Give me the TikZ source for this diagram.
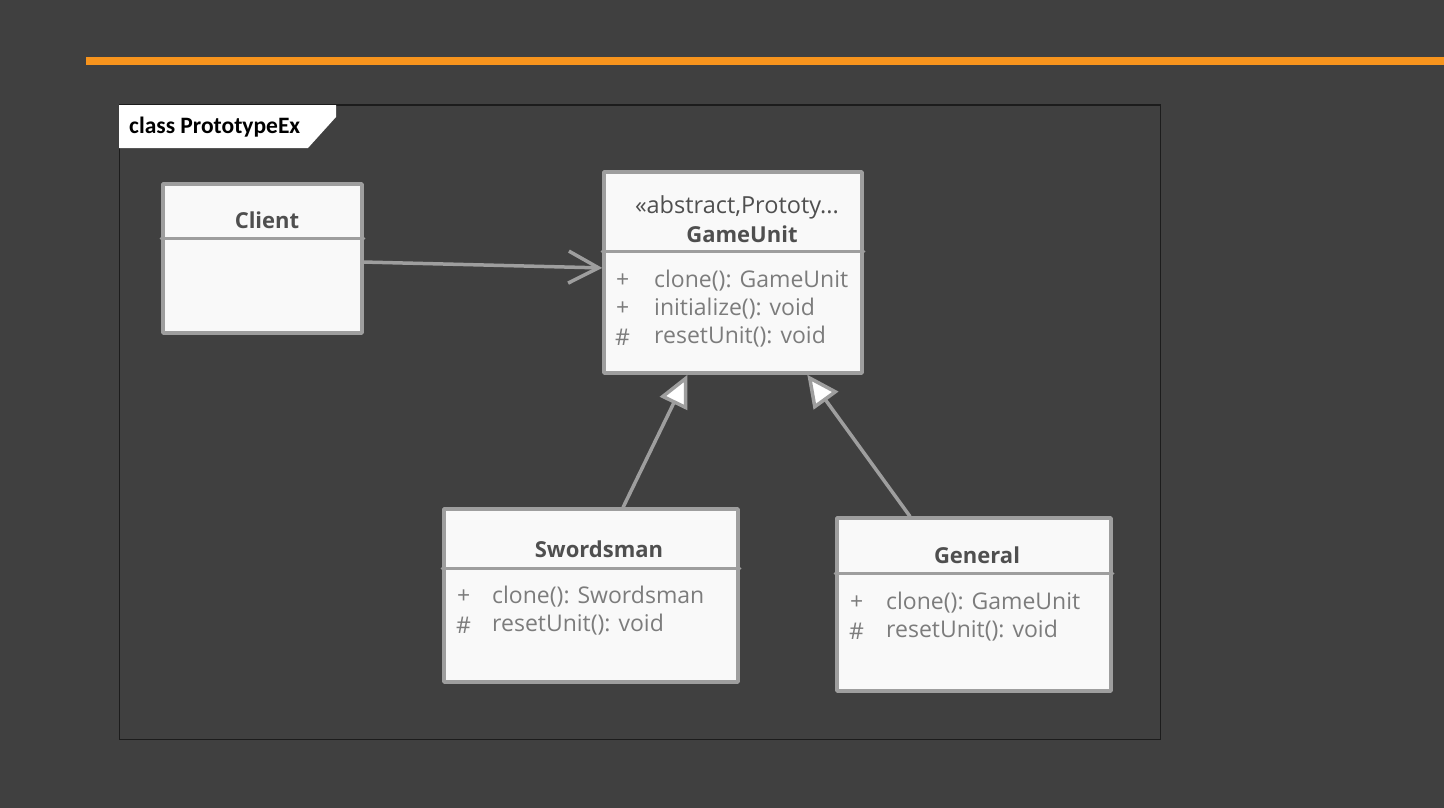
\documentclass[tikz,border=0pt]{standalone}
\usepackage{fontspec}
\setmainfont{Open Sans}
\newfontfamily\framefont{Carlito}
\usetikzlibrary{arrows.meta}

\definecolor{bgdark}{HTML}{404040}
\definecolor{barorange}{HTML}{F7941D}
\definecolor{boxfill}{HTML}{F9F9F9}
\definecolor{boxline}{HTML}{9E9E9E}
\definecolor{titletext}{HTML}{4F4F4F}
\definecolor{optext}{HTML}{7C7C7C}
\definecolor{framedark}{HTML}{1C1C1C}

\tikzset{
  classbox/.style={draw=boxline, fill=boxfill, line width=3.5pt, rectangle, inner sep=0pt, line join=round},
  classname/.style={font=\fontsize{22}{26}\selectfont\bfseries, text=titletext, inner sep=0pt},
  stereo/.style={font=\fontsize{23.5}{28}\selectfont, text=titletext, inner sep=0pt},
  optext/.style={font=\fontsize{23}{28}\selectfont, text=optext, anchor=west, inner sep=0pt},
  link/.style={draw=boxline, line width=3.5pt, line cap=round},
  uses/.style={link, -{Straight Barb[length=30pt,width=32pt]}},
  inherits/.style={link, -{Triangle[open,length=32pt,width=30pt,fill=white]}},
}

\begin{document}
\begin{tikzpicture}[x=1pt,y=-1pt]
        \fill [bgdark] (0,0) rectangle (1444,808);
        \useasboundingbox (0,0) rectangle (1444,808);
        \fill [barorange] (86,57) rectangle (1444,65);

        % frame
        \draw [framedark, line width=1pt] (119,105) rectangle (1160,739);
        \fill [white] (119,105) -- (336,105) -- (336,117) -- (308,148) -- (119,148) -- cycle;
        \node [anchor=west, inner sep=0pt, font=\framefont\fontsize{23.5}{28}\selectfont\bfseries] (frametitle) at (129,127) {class PrototypeEx};

        % classes
        \node [classbox, minimum width=199pt, minimum height=149pt] (client) at (262.5,258.5) {};
        \node [classbox, minimum width=258pt, minimum height=201pt] (gameunit) at (733,272.5) {};
        \node [classbox, minimum width=294pt, minimum height=173pt] (swordsman) at (591,595.5) {};
        \node [classbox, minimum width=274pt, minimum height=173pt] (general) at (974,604.5) {};

        \draw [link] ([yshift=-56pt]client.north west) -- ([yshift=-56pt]client.north east);
        \draw [link] ([yshift=-81pt]gameunit.north west) -- ([yshift=-81pt]gameunit.north east);
        \draw [link] ([yshift=-61pt]swordsman.north west) -- ([yshift=-61pt]swordsman.north east);
        \draw [link] ([yshift=-57pt]general.north west) -- ([yshift=-57pt]general.north east);

        \node [classname] (clientname) at (267,220) {Client};

        \node [stereo] (gustereo) at (737,207) {«abstract,Prototy...};
        \node [classname] (guname) at (742,234) {GameUnit};
        \node [optext] (guvis1) at (616,281) {+};
        \node [optext] (guvis2) at (616,309) {+};
        \node [optext] (guvis3) at (615,337) {\#};
        \node [optext] (guop1) at (654,281) {clone(): GameUnit};
        \node [optext] (guop2) at (654,309) {initialize(): void};
        \node [optext] (guop3) at (654,337) {resetUnit(): void};

        \node [classname] (swname) at (599,549) {Swordsman};
        \node [optext] (swvis1) at (457,597) {+};
        \node [optext] (swvis2) at (456,625) {\#};
        \node [optext] (swop1) at (492,597) {clone(): Swordsman};
        \node [optext] (swop2) at (492,625) {resetUnit(): void};

        \node [classname] (genname) at (977,555) {General};
        \node [optext] (genvis1) at (850,603) {+};
        \node [optext] (genvis2) at (849,631) {\#};
        \node [optext] (genop1) at (886,603) {clone(): GameUnit};
        \node [optext] (genop2) at (886,631) {resetUnit(): void};

        % relations
        \draw [uses] (client.-2) -- (gameunit.178);
        \draw [inherits] (swordsman.70) -- (gameunit.246);
        \draw [inherits] (general.126) -- (gameunit.306);

      \end{tikzpicture}
\end{document}
